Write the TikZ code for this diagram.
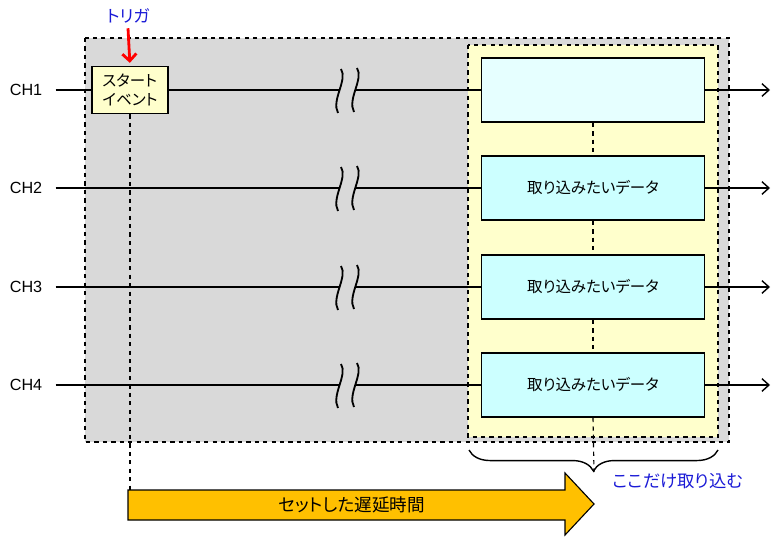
\documentclass[tikz,border=0pt]{standalone}
\usepackage{fontspec}
\setmainfont{Noto Sans CJK JP}[RawFeature=+palt]
\newfontfamily\latinfont{Liberation Sans}
\usetikzlibrary{arrows.meta,decorations.pathreplacing}

\definecolor{bggray}{HTML}{D9D9D9}
\definecolor{capyellow}{HTML}{FFFFCC}
\definecolor{datacyan}{HTML}{CCFFFF}
\definecolor{datalight}{HTML}{E6FFFF}
\definecolor{delayorange}{HTML}{FFC000}
\definecolor{noteblue}{HTML}{1A1AD6}
\definecolor{trigred}{HTML}{FF0000}

\begin{document}
\begin{tikzpicture}[
    x=0.025cm, y=-0.025cm,
    font=\fontsize{11}{13}\selectfont,
    chlabel/.style={font=\latinfont\fontsize{11.5}{13}\selectfont, inner xsep=0.33cm, inner ysep=0pt},
    signal/.style={line width=1pt},
    outarrow/.style={signal, -{Straight Barb[length=5pt, width=9pt]}},
    region/.style={dashed, line width=0.8pt},
    databox/.style={rectangle, draw, line width=1.2pt, fill=datacyan, minimum width=5.575cm, minimum height=1.6cm},
    breakmark/.style={line width=1.3pt}
]
\useasboundingbox (0,0) rectangle (780,537);

% Regions
\draw[region, fill=bggray] (85,38) rectangle (729,442);
\draw[region, fill=capyellow] (468,45) rectangle (718,437);

% Start event and trigger
\node[rectangle, draw, line width=1.2pt, fill=capyellow, minimum width=1.9cm, minimum height=1.175cm, align=left] (start) at (130,90) {スタート\\イベント};
\node[text=noteblue, font=\fontsize{12}{14}\selectfont] (trig) at (128,16) {トリガ};
\draw[trigred, line width=2pt, -{Straight Barb[length=5pt, width=10pt]}, shorten >=2pt] (trig.south) -- (start.north);

% Data boxes
\node[databox, fill=datalight] (d1) at (593,90) {};
\node[databox] (d2) at (593,188) {取り込みたいデータ};
\node[databox] (d3) at (593,287) {取り込みたいデータ};
\node[databox] (d4) at (593,385) {取り込みたいデータ};

% Channels
\foreach \i/\ypos in {1/90,2/188,3/287,4/385} {
    \node[chlabel] (ch\i) at (26,\ypos) {CH\i};
    \coordinate (bl\i) at (339,\ypos);
    \coordinate (br\i) at (355,\ypos);
    \coordinate (out\i) at (770,\ypos);
    \draw[breakmark] (341,\ypos-21) .. controls (348,\ypos-10) and (331,\ypos+10) .. (338,\ypos+23);
    \draw[breakmark] (357,\ypos-22) .. controls (364,\ypos-11) and (347,\ypos+9) .. (354,\ypos+22);
    \draw[signal] (br\i) -- (d\i.west);
    \draw[outarrow] (d\i.east) -- (out\i);
}
\draw[signal] (ch1.east) -- (start.west);
\draw[signal] (start.east) -- (bl1);
\foreach \i in {2,3,4} {
    \draw[signal] (ch\i.east) -- (bl\i);
}

% Capture range
\coordinate (bracetip) at (594,472);
\draw[region] (d1.south) -- (d2.north);
\draw[region] (d2.south) -- (d3.north);
\draw[region] (d3.south) -- (d4.north);
\draw[region] (d4.south) -- (bracetip);
\draw[decorate, decoration={brace, mirror, amplitude=15pt}, line width=1pt] (469,450) -- (718,450);
\node[text=noteblue, font=\fontsize{12.3}{14}\selectfont] (capture) at (678,481) {ここだけ取り込む};

% Delay
\coordinate (delaytop) at (128,490);
\draw[region] (start.south) -- (start.south |- delaytop);
\draw[line width=0.8pt, fill=delayorange] (delaytop) -- (565,490) -- (565,473) -- (594,504) -- (565,535) -- (565,520) -- (128,520) -- cycle;
\node[font=\fontsize{12.5}{14}\selectfont] (delay) at (352,505) {セットした遅延時間};

\end{tikzpicture}
\end{document}
